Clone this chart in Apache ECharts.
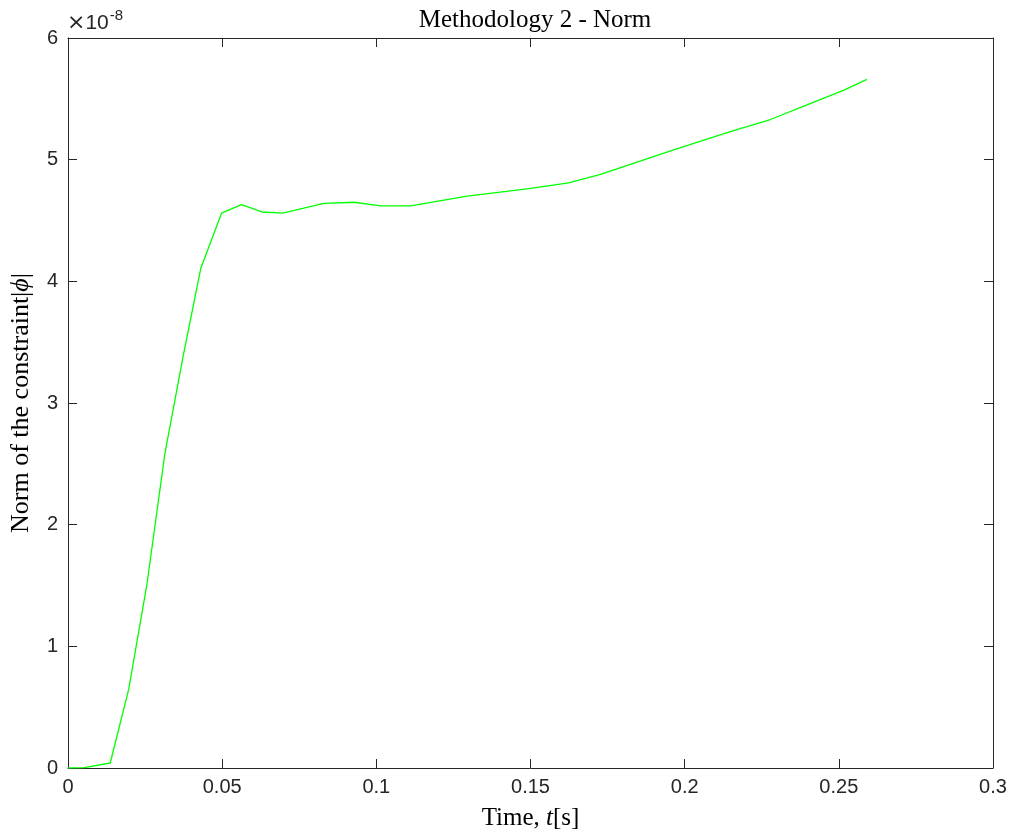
<!DOCTYPE html>
<html>
<head>
<meta charset="utf-8">
<title>Methodology 2 - Norm</title>
<script src="https://cdn.jsdelivr.net/npm/echarts@6/dist/echarts.min.js"></script>
<style>
  html, body { margin: 0; padding: 0; background: #ffffff; }
  #chart { width: 1015px; height: 836px; }
</style>
</head>
<body>
<div id="chart"></div>
<script>
// Time samples [s]
const timeValues = [
  0, 0.0053, 0.0137, 0.0197, 0.0256, 0.0314, 0.0373, 0.0431, 0.0498,
  0.0563, 0.0629, 0.0696, 0.0830, 0.0928, 0.1014, 0.1111, 0.1295,
  0.1489, 0.1624, 0.1727, 0.1964, 0.2148, 0.2278, 0.2407, 0.2515, 0.2591
];
// Norm of the constraint, in units of 1e-8
const normValues = [
  0, 0.003, 0.041, 0.648, 1.51, 2.58, 3.38, 4.11, 4.56,
  4.63, 4.57, 4.56, 4.64, 4.65, 4.62, 4.62, 4.70,
  4.76, 4.81, 4.88, 5.08, 5.23, 5.33, 5.46, 5.57, 5.66
];
const xTicks = { min: 0, max: 0.3, step: 0.05 };
const yTicks = { min: 0, max: 6, step: 1 };
const exponentLabel = ['×', '10', '-8'];

const seriesData = timeValues.map((t, i) => [t, normValues[i]]);

const axisColor = '#262626';
const sansFont = '"Liberation Sans", Arial, Helvetica, sans-serif';
const serifFont = '"Liberation Serif", "Times New Roman", serif';
const serifSize = 25;

const chart = echarts.init(document.getElementById('chart'), null, { renderer: 'canvas' });

const baseAxisLine = { show: true, onZero: false, lineStyle: { color: axisColor, width: 1 } };
const baseTick = { show: true, inside: true, length: 9, lineStyle: { color: axisColor, width: 1 } };

chart.setOption({
  animation: false,
  backgroundColor: '#ffffff',
  title: {
    text: 'Methodology 2 - Norm',
    left: 530,
    textAlign: 'center',
    top: 3,
    textStyle: { fontFamily: serifFont, fontWeight: 'normal', fontSize: serifSize, color: '#000000' }
  },
  grid: { left: 67, right: 22, top: 38, bottom: 67, containLabel: false },
  xAxis: [
    {
      type: 'value',
      position: 'bottom',
      min: xTicks.min, max: xTicks.max, interval: xTicks.step,
      axisLine: baseAxisLine,
      axisTick: baseTick,
      splitLine: { show: false },
      axisLabel: { color: axisColor, fontFamily: sansFont, fontSize: 20, margin: 9 },
      name: '{n|Time, }{i|t}{n|[s]}',
      nameLocation: 'middle',
      nameGap: 38,
      nameTextStyle: {
        rich: {
          n: { fontFamily: serifFont, fontSize: serifSize, color: '#000000' },
          i: { fontFamily: serifFont, fontSize: serifSize, fontStyle: 'italic', color: '#000000' }
        }
      }
    },
    {
      type: 'value',
      position: 'top',
      min: xTicks.min, max: xTicks.max, interval: xTicks.step,
      axisLine: baseAxisLine,
      axisTick: baseTick,
      splitLine: { show: false },
      axisLabel: { show: false }
    }
  ],
  yAxis: [
    {
      type: 'value',
      position: 'left',
      min: yTicks.min, max: yTicks.max, interval: yTicks.step,
      axisLine: baseAxisLine,
      axisTick: baseTick,
      splitLine: { show: false },
      axisLabel: { color: axisColor, fontFamily: sansFont, fontSize: 20, margin: 10 },
      name: '{n|Norm of the constraint|}{i|ϕ}{n||}',
      nameLocation: 'middle',
      nameGap: 34,
      nameTextStyle: {
        rich: {
          n: { fontFamily: serifFont, fontSize: serifSize + 1, color: '#000000' },
          i: { fontFamily: serifFont, fontSize: serifSize + 1, fontStyle: 'italic', color: '#000000' }
        }
      }
    },
    {
      type: 'value',
      position: 'right',
      min: yTicks.min, max: yTicks.max, interval: yTicks.step,
      axisLine: baseAxisLine,
      axisTick: baseTick,
      splitLine: { show: false },
      axisLabel: { show: false }
    }
  ],
  graphic: [
    {
      type: 'text',
      left: 67,
      top: 8,
      style: {
        text: '{x|' + exponentLabel[0] + '}{a|' + exponentLabel[1] + '}{b|' + exponentLabel[2] + '}',
        rich: {
          x: { fontFamily: '"DejaVu Sans", sans-serif', fontSize: 22, fill: axisColor, verticalAlign: 'bottom', lineHeight: 26 },
          a: { fontFamily: sansFont, fontSize: 21, fill: axisColor, verticalAlign: 'bottom', lineHeight: 26 },
          b: { fontFamily: sansFont, fontSize: 15, fill: axisColor, verticalAlign: 'top', lineHeight: 26, padding: [0, 0, 12, 1] }
        }
      }
    }
  ],
  series: [
    {
      type: 'line',
      xAxisIndex: 0,
      yAxisIndex: 0,
      data: seriesData,
      showSymbol: false,
      smooth: false,
      lineStyle: { color: '#00ff00', width: 1.3 },
      clip: true
    }
  ]
});
</script>
</body>
</html>
